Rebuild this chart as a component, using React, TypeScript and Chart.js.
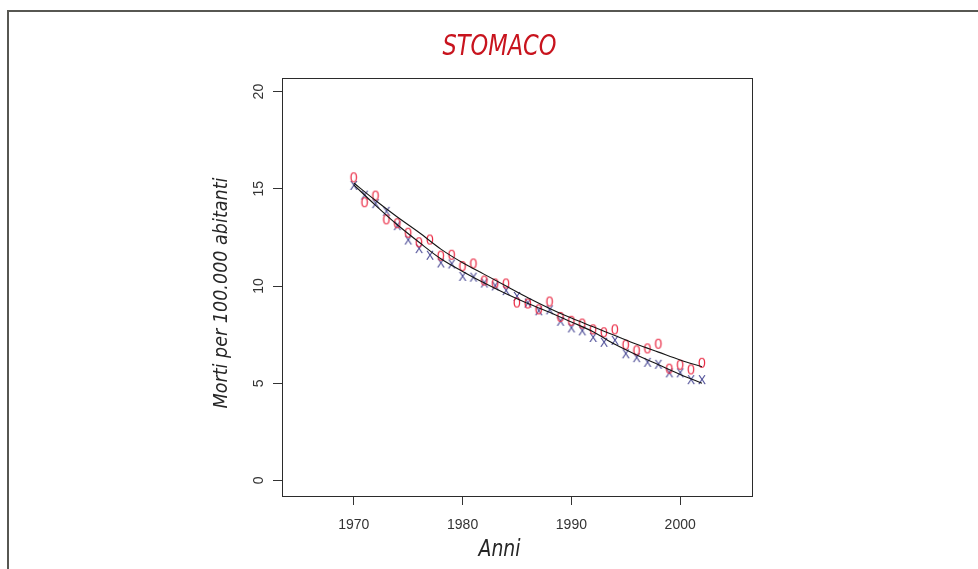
import React, { useEffect, useRef } from "react";
import { Chart, registerables } from "chart.js";

Chart.register(...registerables);

// ---- data ----
const years = [
  1970, 1971, 1972, 1973, 1974, 1975, 1976, 1977, 1978, 1979, 1980, 1981,
  1982, 1983, 1984, 1985, 1986, 1987, 1988, 1989, 1990, 1991, 1992, 1993,
  1994, 1995, 1996, 1997, 1998, 1999, 2000, 2001, 2002,
];
// red "0" markers
const rateO = [
  15.54, 14.26, 14.6, 13.38, 13.18, 12.69, 12.2, 12.34, 11.51, 11.56, 10.97, 11.11,
  10.23, 10.08, 10.08, 9.1, 9.05, 8.75, 9.15, 8.36, 8.16, 8.02, 7.72, 7.57,
  7.72, 6.93, 6.64, 6.74, 6.98, 5.7, 5.9, 5.66, 6.0,
];
// blue "X" markers
const rateX = [
  15.15, 14.65, 14.21, 13.82, 13.08, 12.34, 11.9, 11.56, 11.16, 11.11, 10.47, 10.43,
  10.13, 9.98, 9.74, 9.44, 9.1, 8.7, 8.75, 8.16, 7.82, 7.67, 7.33, 7.08,
  7.18, 6.49, 6.29, 6.05, 5.95, 5.51, 5.51, 5.16, 5.16,
];
// fitted curves
const fitYears = [1970, 1972, 1974, 1976, 1978, 1980, 1982, 1984, 1986, 1988, 1990, 1992, 1994, 1996, 1998, 2000, 2002];
const fitO = [15.3, 14.4, 13.55, 12.75, 11.9, 11.2, 10.6, 10.0, 9.4, 8.85, 8.35, 7.9, 7.45, 7.0, 6.6, 6.2, 5.85];
const fitX = [15.2, 14.15, 13.15, 12.25, 11.4, 10.75, 10.15, 9.6, 9.1, 8.65, 8.15, 7.65, 7.0, 6.45, 5.95, 5.45, 5.0];

const xTicks = [1970, 1980, 1990, 2000];
const yTicks = [0, 5, 10, 15, 20];

const titleText = "STOMACO";
const xTitleText = "Anni";
const yTitleText = "Morti per 100.000 abitanti";

const LABEL_FONT = "'DejaVu Sans Condensed', 'DejaVu Sans', sans-serif";

function makeGlyph(ch: string, color: string, font: string, w: number, h: number) {
  const c = document.createElement("canvas");
  c.width = w;
  c.height = h;
  const g = c.getContext("2d")!;
  g.font = font;
  g.fillStyle = color;
  g.textAlign = "center";
  g.textBaseline = "middle";
  g.fillText(ch, w / 2, h / 2 + 0.5);
  return c;
}

function drawFitted(
  ctx: CanvasRenderingContext2D,
  text: string,
  cx: number,
  cy: number,
  font: string,
  color: string,
  width: number,
  rot: number
) {
  ctx.save();
  ctx.font = font;
  ctx.fillStyle = color;
  ctx.textAlign = "center";
  ctx.textBaseline = "middle";
  const w = ctx.measureText(text).width;
  ctx.translate(cx, cy);
  if (rot) ctx.rotate(rot);
  ctx.scale(width / w, 1);
  ctx.fillText(text, 0, 0);
  ctx.restore();
}

const decorPlugin = {
  id: "decor",
  beforeDatasetsDraw(chart: any) {
    const { ctx, chartArea: a } = chart;
    ctx.save();
    ctx.strokeStyle = "#2b2b2b";
    ctx.lineWidth = 1;
    ctx.strokeRect(a.left + 0.5, a.top + 0.5, a.right - a.left, a.bottom - a.top);
    ctx.restore();
  },
  afterDraw(chart: any) {
    const { ctx } = chart;
    drawFitted(ctx, titleText, 499.5, 47, `italic 29px ${LABEL_FONT}`, "#c8141e", 114, 0);
    drawFitted(ctx, xTitleText, 499.5, 550, `italic 23px ${LABEL_FONT}`, "#262626", 42, 0);
    drawFitted(ctx, yTitleText, 222, 293, `italic 20px ${LABEL_FONT}`, "#262626", 231, -Math.PI / 2);
  },
};

export default function App() {
  const ref = useRef<HTMLCanvasElement | null>(null);

  useEffect(() => {
    if (!ref.current) return;
    const glyphO = makeGlyph("0", "#ea2a44", "14px 'Liberation Sans', Arial, sans-serif", 10, 14);
    const glyphX = makeGlyph("X", "#3e3e8e", "12px 'Liberation Sans', Arial, sans-serif", 10, 14);

    const tickFont = { family: "'Liberation Sans', Arial, sans-serif", size: 14 };

    const chart = new Chart(ref.current, {
      type: "scatter",
      data: {
        datasets: [
          {
            type: "line",
            data: fitYears.map((x, i) => ({ x, y: fitO[i] })),
            borderColor: "#151515",
            borderWidth: 1.1,
            pointRadius: 0,
            cubicInterpolationMode: "monotone",
            fill: false,
          } as any,
          {
            type: "line",
            data: fitYears.map((x, i) => ({ x, y: fitX[i] })),
            borderColor: "#151515",
            borderWidth: 1.1,
            pointRadius: 0,
            cubicInterpolationMode: "monotone",
            fill: false,
          } as any,
          {
            data: years.map((x, i) => ({ x, y: rateO[i] })),
            pointStyle: glyphO as any,
            pointRadius: 5,
          },
          {
            data: years.map((x, i) => ({ x, y: rateX[i] })),
            pointStyle: glyphX as any,
            pointRadius: 5,
          },
        ],
      },
      options: {
        responsive: false,
        animation: false,
        devicePixelRatio: 1,
        layout: { padding: { left: 0, right: 226, top: 78, bottom: 0 } },
        plugins: {
          legend: { display: false },
          tooltip: { enabled: false },
          title: { display: false },
        },
        scales: {
          x: {
            type: "linear",
            min: 1963.4,
            max: 2006.6,
            afterBuildTicks: (s: any) => {
              s.ticks = xTicks.map((v) => ({ value: v }));
            },
            afterFit: (s: any) => {
              s.height = 73;
            },
            grid: { drawOnChartArea: false, drawTicks: true, tickLength: 9, color: "#333", lineWidth: 1 },
            border: { display: false },
            ticks: {
              font: tickFont,
              color: "#333",
              padding: 12,
              maxRotation: 0,
              autoSkip: false,
              callback: (v: any) => String(v),
            },
          },
          y: {
            type: "linear",
            min: -0.8,
            max: 20.7,
            afterBuildTicks: (s: any) => {
              s.ticks = yTicks.map((v) => ({ value: v }));
            },
            afterFit: (s: any) => {
              s.width = 282;
            },
            grid: { drawOnChartArea: false, drawTicks: true, tickLength: 9, color: "#333", lineWidth: 1 },
            border: { display: false },
            ticks: {
              font: tickFont,
              color: "#333",
              padding: 6,
              minRotation: 90,
              maxRotation: 90,
              crossAlign: "center",
              autoSkip: false,
              callback: (v: any) => String(v),
            },
          },
        },
      } as any,
      plugins: [decorPlugin],
    });
    return () => chart.destroy();
  }, []);

  return (
    <>
      <div
        style={{
          position: "fixed",
          left: 7,
          top: 10,
          right: 0,
          bottom: -10,
          borderTop: "2px solid #575752",
          borderLeft: "2px solid #575752",
        }}
      />
      <canvas
        ref={ref}
        width={978}
        height={569}
        style={{ position: "fixed", left: 0, top: 0, width: 978, height: 569 }}
      />
    </>
  );
}
